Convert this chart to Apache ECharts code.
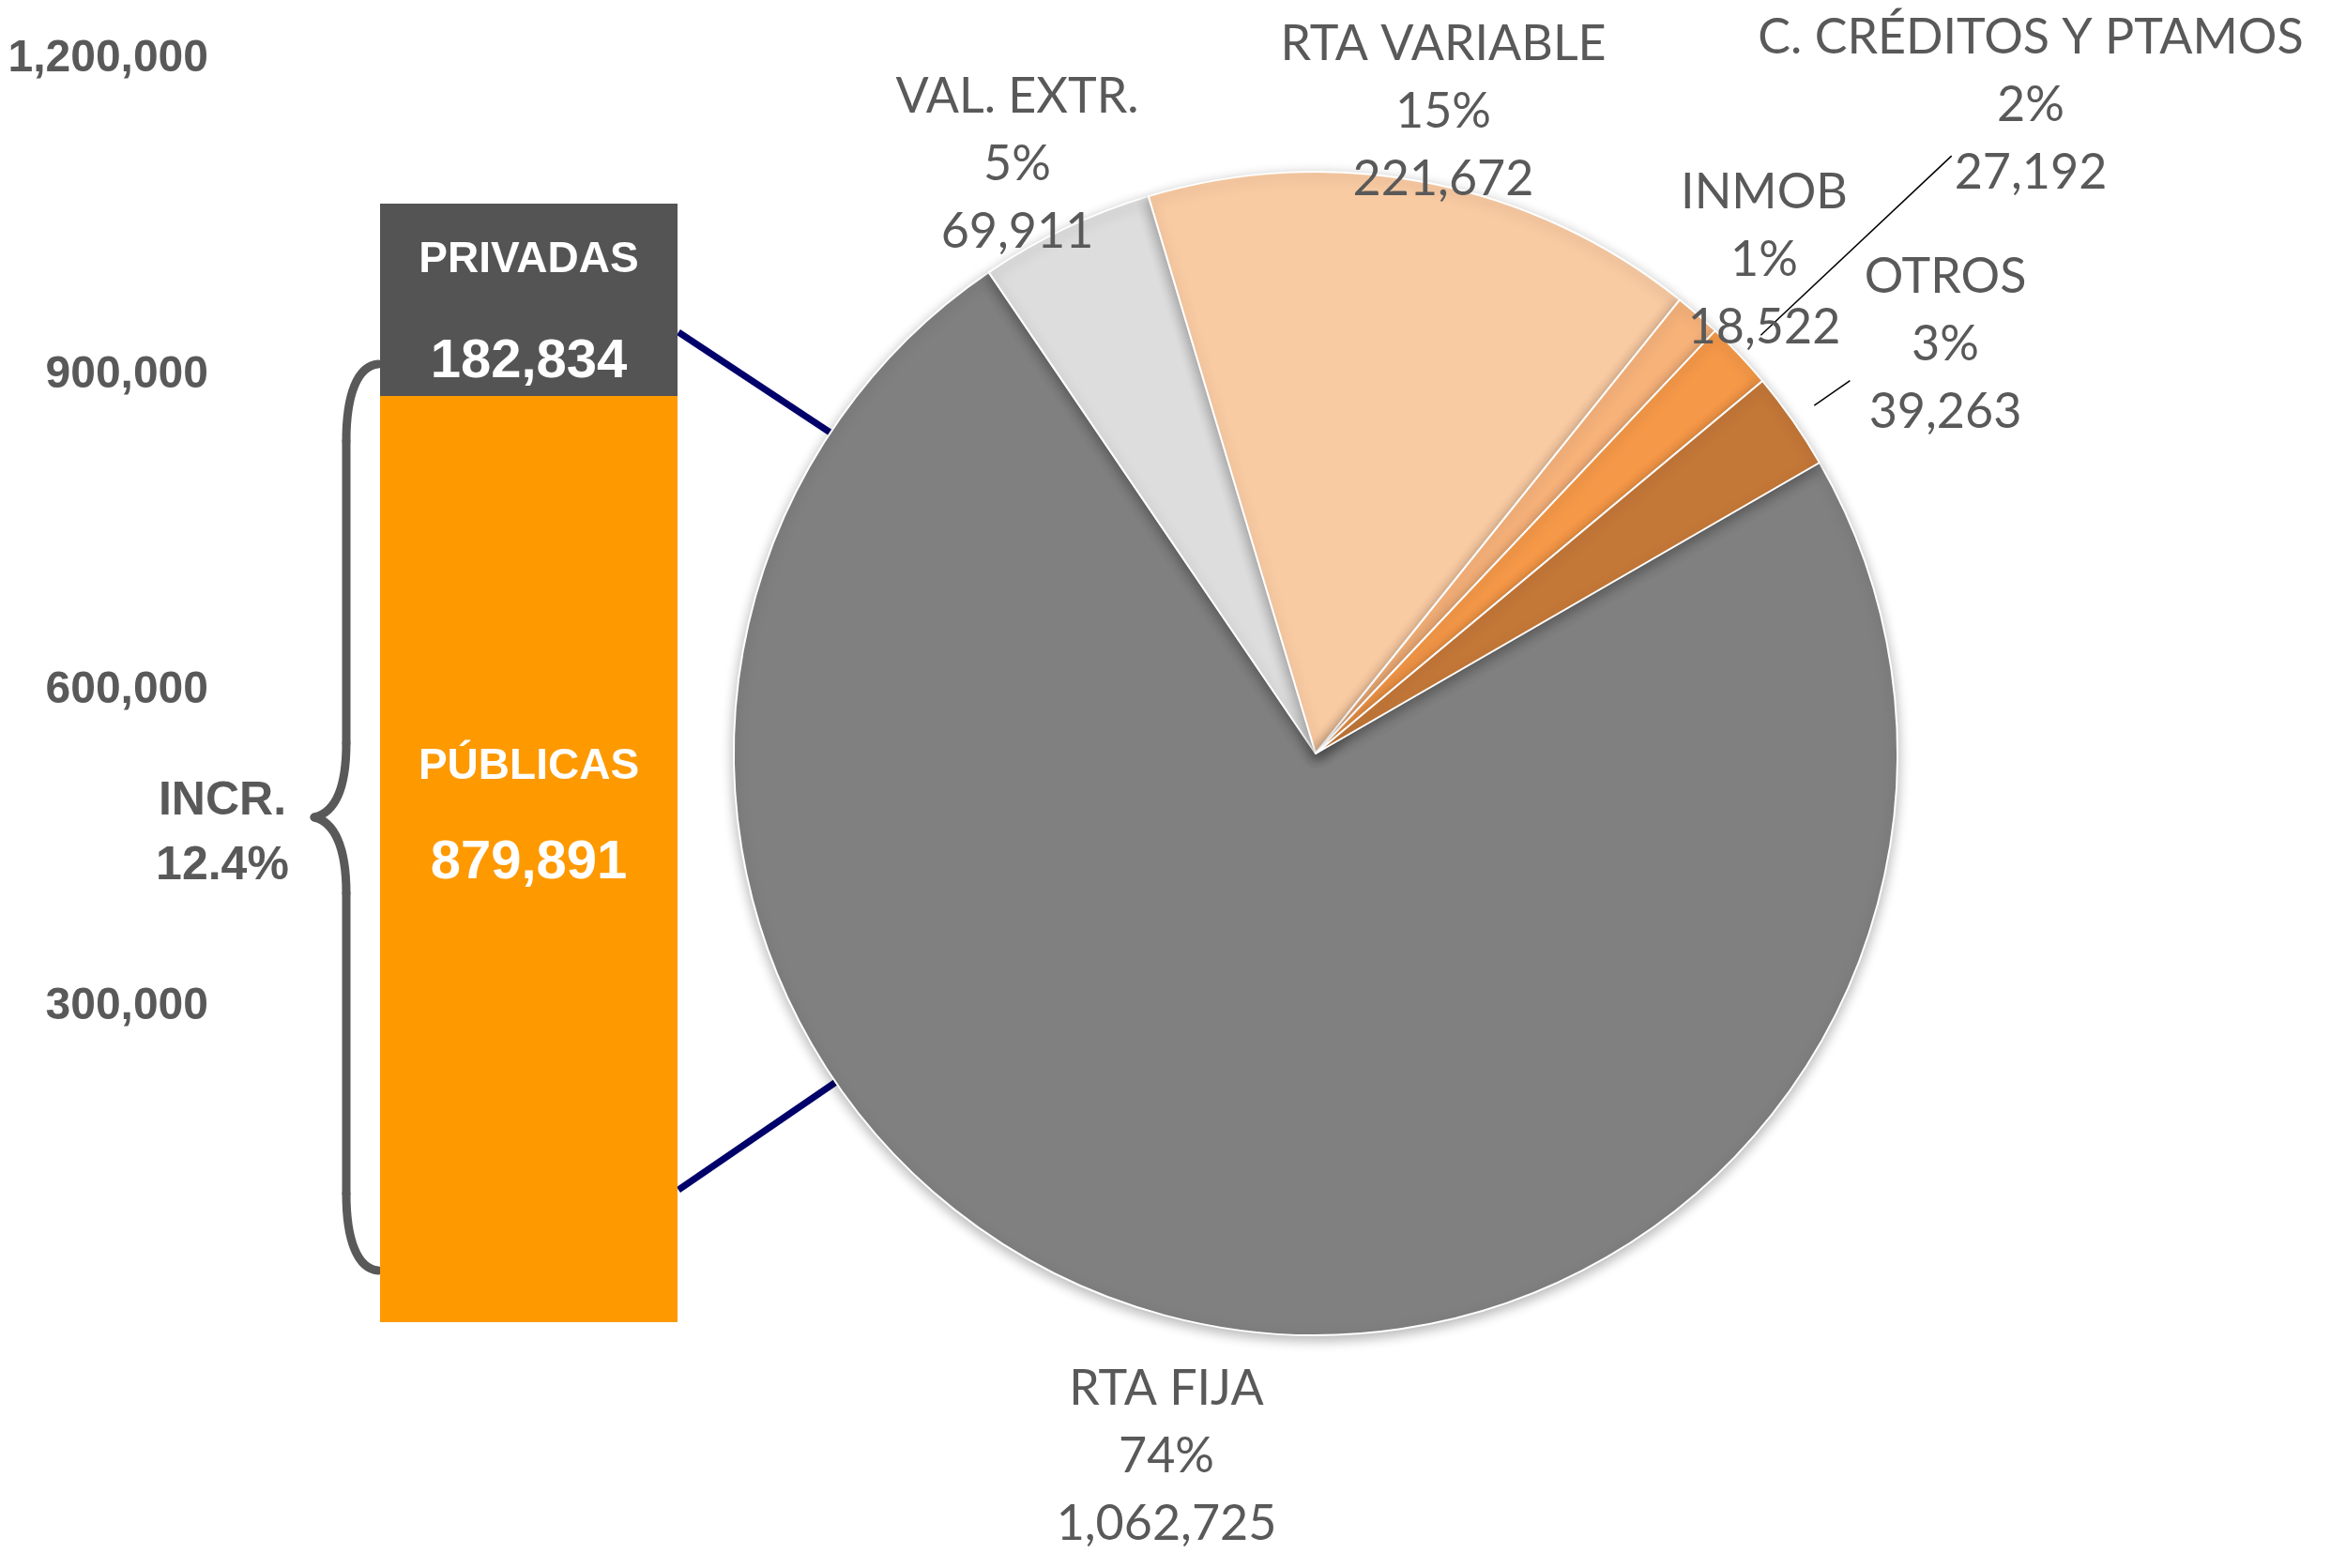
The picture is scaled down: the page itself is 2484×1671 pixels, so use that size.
<!DOCTYPE html>
<html>
<head>
<meta charset="utf-8">
<title>RTA FIJA</title>
<script src="https://cdn.jsdelivr.net/npm/echarts@6/dist/echarts.min.js"></script>
<style>
  html, body { margin: 0; padding: 0; background: #fff; }
  #chart { width: 2484px; height: 1671px; }
</style>
</head>
<body>
<div id="chart"></div>
<script>
// datos
let sliceNames = ['RTA FIJA', 'VAL. EXTR.', 'RTA VARIABLE', 'INMOB', 'C. CRÉDITOS Y PTAMOS', 'OTROS']
let sliceValues = [1062725, 69911, 221672, 18522, 27192, 39263]
let barCategories = ['RTA FIJA']
let publicasValues = [879891]
let privadasValues = [182834]
let yTicks = [0, 300000, 600000, 900000, 1200000]
let incrText = ['INCR.', '12.4%']

// estilos
let sliceColors = ['#808080', '#DDDDDD', '#F9CBA3', '#F7B27A', '#F59848', '#C47838']
let grey = '#595959'
let pieCenter = [1402, 803]
let pieRadius = 620
// centro de cada etiqueta del pastel
let labelSpots = [[1243, 1552], [1084, 175], [1538, 119], [1880, 277], [2164, 112], [2073, 367]]
// guias radiales [inicio, fin] como fraccion del radio
let guideSpans = { 4: [1.05, 1.5], 5: [1.045, 1.12] }

let fmt = (n) => n.toLocaleString('en-US')

let myChart = echarts.init(document.getElementById('chart'))

// llave "{" en trozos
let braceStyle = { stroke: grey, lineWidth: 9, fill: null, lineCap: 'round' }
let braceParts = [
  { type: 'bezierCurve', shape: { x1: 403, y1: 388, cpx1: 381, cpy1: 390, cpx2: 369, cpy2: 420, x2: 369, y2: 470 } },
  { type: 'line', shape: { x1: 369, y1: 470, x2: 369, y2: 792 } },
  { type: 'bezierCurve', shape: { x1: 369, y1: 792, cpx1: 369, cpy1: 842, cpx2: 356, cpy2: 866, x2: 335, y2: 871 } },
  { type: 'bezierCurve', shape: { x1: 335, y1: 871, cpx1: 356, cpy1: 876, cpx2: 369, cpy2: 902, x2: 369, y2: 952 } },
  { type: 'line', shape: { x1: 369, y1: 952, x2: 369, y2: 1272 } },
  { type: 'bezierCurve', shape: { x1: 369, y1: 1272, cpx1: 369, cpy1: 1322, cpx2: 381, cpy2: 1352, x2: 403, y2: 1354 } },
].map((el) => Object.assign(el, { z: 0, style: braceStyle }))

let barRich = (lh) => ({
  n: { color: '#fff', fontSize: 46, fontWeight: 'bold', fontFamily: 'Liberation Sans', lineHeight: lh },
  v: { color: '#fff', fontSize: 58, fontWeight: 'bold', fontFamily: 'Liberation Sans', lineHeight: lh },
})

let option = {
  animation: false,
  grid: {
    left: 405,
    width: 317,
    top: 63,
    height: 1346,
    containLabel: false,
    outerBoundsMode: 'none',
  },
  xAxis: {
    type: 'category',
    data: barCategories,
    show: false,
  },
  yAxis: {
    type: 'value',
    min: yTicks[0],
    max: yTicks[yTicks.length - 1],
    interval: yTicks[1] - yTicks[0],
    axisLine: { show: false },
    axisTick: { show: false },
    splitLine: { show: false },
    axisLabel: {
      margin: 183,
      color: grey,
      fontSize: 48,
      fontWeight: 'bold',
      fontFamily: 'Liberation Sans',
      formatter: (v) => (v === 0 ? '' : fmt(v)),
    },
  },
  graphic: [
    // lineas hacia el centro del pastel, quedan detras
    {
      type: 'line',
      z: 0,
      shape: { x1: 723, y1: 354, x2: pieCenter[0], y2: pieCenter[1] },
      style: { stroke: '#00006A', lineWidth: 7 },
    },
    {
      type: 'line',
      z: 0,
      shape: { x1: 723, y1: 1268, x2: pieCenter[0], y2: pieCenter[1] },
      style: { stroke: '#00006A', lineWidth: 7 },
    },
    ...braceParts,
    {
      type: 'text',
      z: 0,
      x: 237,
      y: 889,
      style: {
        text: incrText.join('\n'),
        fill: grey,
        fontSize: 50,
        fontWeight: 'bold',
        fontFamily: 'Liberation Sans',
        lineHeight: 69,
        align: 'center',
        verticalAlign: 'middle',
      },
    },
  ],
  series: [
    {
      name: 'PÚBLICAS',
      type: 'bar',
      stack: 'total',
      barWidth: '100%',
      data: publicasValues,
      itemStyle: { color: '#FE9900' },
      label: {
        show: true,
        position: 'inside',
        offset: [0, -47],
        formatter: (p) => '{n|' + p.seriesName + '}\n{v|' + fmt(p.value) + '}',
        rich: barRich(102),
      },
    },
    {
      name: 'PRIVADAS',
      type: 'bar',
      stack: 'total',
      barWidth: '100%',
      data: privadasValues,
      itemStyle: { color: '#545454' },
      label: {
        show: true,
        position: 'inside',
        offset: [0, 12],
        formatter: (p) => '{n|' + p.seriesName + '}\n{v|' + fmt(p.value) + '}',
        rich: barRich(109),
      },
    },
    {
      type: 'pie',
      z: 5,
      center: pieCenter,
      radius: pieRadius,
      startAngle: 30,
      clockwise: true,
      data: sliceNames.map((name, i) => ({
        name: name,
        value: sliceValues[i],
        itemStyle: { color: sliceColors[i] },
        labelLine: { show: !!guideSpans[i] },
      })),
      itemStyle: {
        borderColor: '#fff',
        borderWidth: 2,
        shadowBlur: 14,
        shadowColor: 'rgba(0,0,0,0.3)',
        shadowOffsetY: 4,
      },
      label: {
        show: true,
        position: 'outside',
        overflow: 'none',
        color: grey,
        fontSize: 52,
        fontFamily: 'Lato',
        lineHeight: 72,
        align: 'center',
        formatter: (p) => p.name + '\n' + Math.round(p.percent) + '%\n' + fmt(p.value),
      },
      labelLine: {
        show: false,
        lineStyle: { color: '#000', width: 1.5 },
      },
      labelLayout: (params) => {
        let spot = labelSpots[params.dataIndex]
        let out = { x: spot[0], y: spot[1], align: 'center', verticalAlign: 'middle' }
        let span = guideSpans[params.dataIndex]
        if (span && params.labelLinePoints) {
          let p0 = params.labelLinePoints[0]
          let dx = p0[0] - pieCenter[0]
          let dy = p0[1] - pieCenter[1]
          out.labelLinePoints = [
            [pieCenter[0] + dx * span[0], pieCenter[1] + dy * span[0]],
            [pieCenter[0] + dx * span[1], pieCenter[1] + dy * span[1]],
          ]
        }
        return out
      },
      emphasis: { disabled: true },
    },
  ],
}

myChart.setOption(option)
</script>
</body>
</html>
